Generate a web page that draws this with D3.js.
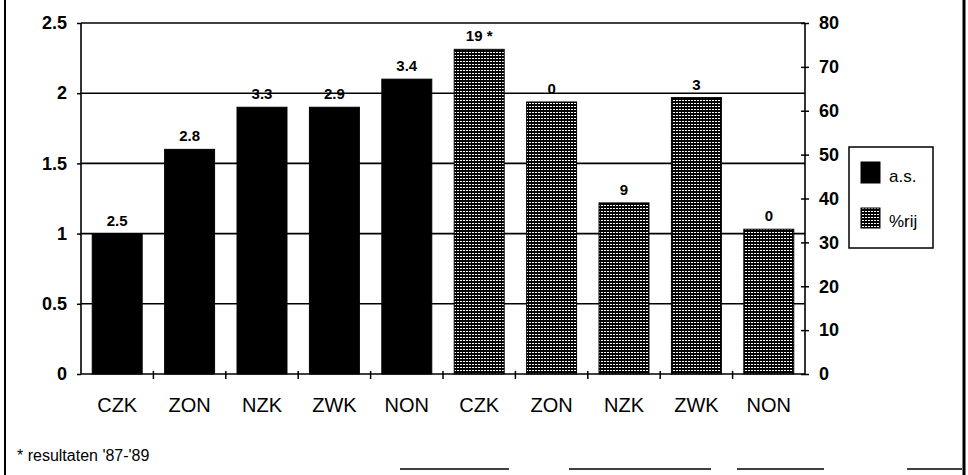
<!DOCTYPE html>
<html>
<head>
<meta charset="utf-8">
<script src="https://cdn.jsdelivr.net/npm/d3@7/dist/d3.min.js"></script>
<style>
  html, body { margin: 0; padding: 0; background: #fff; }
  svg { display: block; }
  text { fill: #000; }
</style>
</head>
<body>
<svg id="chart" width="968" height="475"></svg>
<script>
// Regions shown along the x axis (two groups of five)
const categories = ["CZK", "ZON", "NZK", "ZWK", "NON", "CZK", "ZON", "NZK", "ZWK", "NON"];
// a.s. — left axis, first group
const asValues = [1.0, 1.6, 1.9, 1.9, 2.1];
// %rij — right axis, second group
const rijValues = [74, 62, 39, 63, 33];
// Labels printed above each bar
const barLabels = ["2.5", "2.8", "3.3", "2.9", "3.4", "19 *", "0", "9", "3", "0"];
const leftTicks = [0, 0.5, 1, 1.5, 2, 2.5];
const rightTicks = [0, 10, 20, 30, 40, 50, 60, 70, 80];
const legendItems = ["a.s.", "%rij"];
const footnote = "* resultaten '87-'89";

const svg = d3.select("#chart");
const plotLeft = 81, plotRight = 805, plotTop = 23, plotBottom = 374;
const FONT = "'Liberation Sans', Arial, sans-serif";
const NARROW = "'Liberation Sans Narrow', 'Liberation Sans', Arial, sans-serif";

// dotted fill for the %rij bars
const defs = svg.append("defs");
const pat = defs.append("pattern")
  .attr("id", "dots").attr("patternUnits", "userSpaceOnUse")
  .attr("width", 3).attr("height", 3);
pat.append("rect").attr("width", 3).attr("height", 3).attr("fill", "#000");
pat.append("rect").attr("x", 1).attr("y", 1).attr("width", 2).attr("height", 1).attr("fill", "#fff");

const x = d3.scaleBand().domain(d3.range(categories.length)).range([plotLeft, plotRight]).paddingInner(0.31).paddingOuter(0.155);
const yL = d3.scaleLinear().domain([0, 2.5]).range([plotBottom, plotTop]);
const yR = d3.scaleLinear().domain([0, 80]).range([plotBottom, plotTop]);

// outer frame
const frame = svg.append("g").attr("stroke", "#000").attr("fill", "none");
frame.append("line").attr("x1", 5).attr("x2", 5).attr("y1", 0).attr("y2", 475).attr("stroke-width", 2);
frame.append("line").attr("x1", 964).attr("x2", 964).attr("y1", 0).attr("y2", 475).attr("stroke-width", 3);
[[400, 509], [569, 711], [737, 824], [907, 962]].forEach(([a, b]) => {
  frame.append("line").attr("x1", a).attr("x2", b).attr("y1", 469).attr("y2", 469).attr("stroke-width", 1.5);
});

// horizontal grid lines
svg.append("g").selectAll("line").data(leftTicks.filter(d => d > 0)).join("line")
  .attr("x1", plotLeft).attr("x2", plotRight)
  .attr("y1", d => yL(d)).attr("y2", d => yL(d))
  .attr("stroke", "#000").attr("stroke-width", 1.6);

// bars
const bars = categories.map((c, i) => i < 5
  ? { i, y: yL(asValues[i]), fill: "#000" }
  : { i, y: yR(rijValues[i - 5]), fill: "url(#dots)" });
svg.append("g").selectAll("rect").data(bars).join("rect")
  .attr("x", d => x(d.i)).attr("width", x.bandwidth())
  .attr("y", d => d.y).attr("height", d => plotBottom - d.y)
  .attr("fill", d => d.fill).attr("stroke", "#000").attr("stroke-width", 1);

// value labels above the bars
svg.append("g").selectAll("text").data(bars).join("text")
  .attr("x", d => x(d.i) + x.bandwidth() / 2).attr("y", d => d.y - 8)
  .attr("text-anchor", "middle").attr("font-family", FONT).attr("font-size", 15)
  .attr("font-weight", "bold")
  .text(d => barLabels[d.i]);

// left axis
const gL = svg.append("g").attr("transform", `translate(${plotLeft},0)`)
  .call(d3.axisLeft(yL).tickValues(leftTicks).tickSize(4).tickPadding(10).tickFormat(d3.format("")));
gL.select(".domain").attr("stroke-width", 1.6).attr("d", `M0,${plotTop}V${plotBottom}`);
gL.selectAll(".tick line").attr("stroke-width", 1.5);
gL.selectAll("text").attr("font-family", FONT).attr("font-size", 18).attr("font-weight", "bold");

// right axis, ticks crossing the line
const gR = svg.append("g").attr("transform", `translate(${plotRight},0)`)
  .call(d3.axisRight(yR).tickValues(rightTicks).tickSize(4).tickPadding(10));
gR.select(".domain").attr("stroke-width", 1.6).attr("d", `M0,${plotTop}V${plotBottom}`);
gR.selectAll(".tick line").attr("x1", -4).attr("stroke-width", 1.5);
gR.selectAll("text").attr("font-family", FONT).attr("font-size", 18).attr("font-weight", "bold");

// bottom axis: line with tick marks between the categories
const gB = svg.append("g");
gB.append("line").attr("x1", plotLeft).attr("x2", plotRight).attr("y1", plotBottom).attr("y2", plotBottom)
  .attr("stroke", "#000").attr("stroke-width", 1.6);
const gap = x.step() - x.bandwidth();
gB.selectAll("line.sep").data(d3.range(1, categories.length)).join("line").attr("class", "sep")
  .attr("x1", d => x(d) - gap / 2).attr("x2", d => x(d) - gap / 2)
  .attr("y1", plotBottom - 3).attr("y2", plotBottom + 5)
  .attr("stroke", "#000").attr("stroke-width", 1.5);
gB.selectAll("text").data(categories.map((c, i) => ({ c, i }))).join("text")
  .attr("x", d => x(d.i) + x.bandwidth() / 2).attr("y", 412)
  .attr("text-anchor", "middle").attr("font-family", NARROW).attr("font-size", 20)
  .text(d => d.c);

// legend
const lg = svg.append("g");
lg.append("rect").attr("x", 849).attr("y", 147).attr("width", 84).attr("height", 101)
  .attr("fill", "#fff").attr("stroke", "#000").attr("stroke-width", 1.5);
const sw = [{ y: 162, h: 21, fill: "#000" }, { y: 208, h: 20, fill: "url(#dots)" }];
legendItems.forEach((t, k) => {
  lg.append("rect").attr("x", 861).attr("y", sw[k].y).attr("width", 19).attr("height", sw[k].h)
    .attr("fill", sw[k].fill).attr("stroke", "#000").attr("stroke-width", 1);
  lg.append("text").attr("x", 889).attr("y", sw[k].y + sw[k].h - 1)
    .attr("font-family", FONT).attr("font-size", 17).text(t);
});

// footnote
svg.append("text").attr("x", 17).attr("y", 461)
  .attr("font-family", NARROW).attr("font-size", 16).text(footnote);
</script>
</body>
</html>
